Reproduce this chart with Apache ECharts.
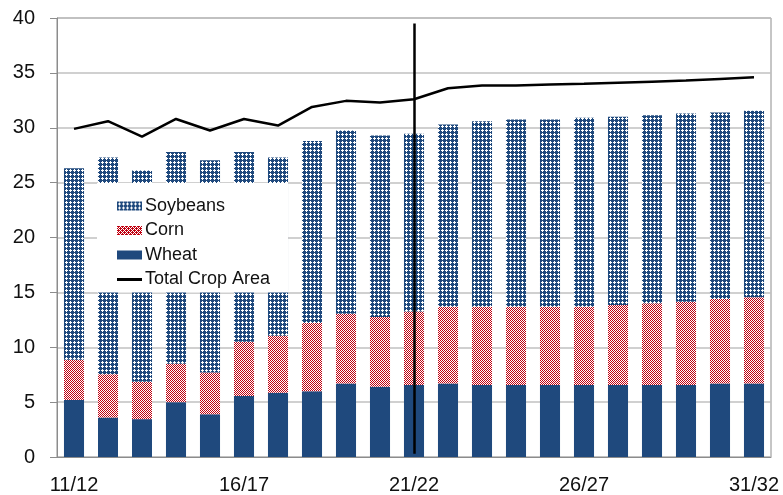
<!DOCTYPE html>
<html>
<head>
<meta charset="utf-8">
<script src="https://cdn.jsdelivr.net/npm/echarts@6/dist/echarts.min.js"></script>
<style>
html, body { margin: 0; padding: 0; background: #fff; }
#chart { width: 783px; height: 495px; }
</style>
</head>
<body>
<div id="chart"></div>
<script>
var years = ['11/12', '12/13', '13/14', '14/15', '15/16', '16/17', '17/18', '18/19', '19/20', '20/21',
    '21/22', '22/23', '23/24', '24/25', '25/26', '26/27', '27/28', '28/29', '29/30', '30/31', '31/32'];
var wheat = [5.2, 3.6, 3.45, 5.0, 3.9, 5.55, 5.85, 6.0, 6.7, 6.4, 6.55, 6.7, 6.55, 6.55, 6.55, 6.55, 6.55, 6.55, 6.55, 6.7, 6.7];
var corn = [3.65, 3.95, 3.4, 3.5, 3.8, 4.95, 5.2, 6.2, 6.35, 6.35, 6.7, 7.0, 7.15, 7.15, 7.15, 7.15, 7.3, 7.45, 7.6, 7.7, 7.85];
var soybeans = [17.45, 19.75, 19.25, 19.3, 19.35, 17.3, 16.25, 16.6, 16.7, 16.55, 16.2, 16.6, 16.9, 17.05, 17.05, 17.2, 17.15, 17.15, 17.15, 17.0, 17.0];
var totalArea = [29.9, 30.6, 29.2, 30.8, 29.75, 30.8, 30.2, 31.9, 32.45, 32.3, 32.6, 33.6, 33.85, 33.85, 33.95, 34.0, 34.1, 34.2, 34.3, 34.45, 34.6];
var yTicks = [0, 5, 10, 15, 20, 25, 30, 35, 40];
var splitYear = '21/22';

// fill patterns
function makeTile(size, bg, fg, cells) {
    var c = document.createElement('canvas');
    c.width = size; c.height = size;
    var ctx = c.getContext('2d');
    ctx.fillStyle = bg;
    ctx.fillRect(0, 0, size, size);
    ctx.fillStyle = fg;
    cells.forEach(function (p) { ctx.fillRect(p[0], p[1], 1, 1); });
    return { image: c, repeat: 'repeat' };
}
var soyFill = makeTile(4, '#1f497d', '#ffffff', [[2, 1], [1, 2], [2, 2], [3, 2], [2, 3]]);
var cornFill = makeTile(2, '#ffffff', '#c00010', [[0, 0], [1, 1]]);
var cornKey = makeTile(4, '#ffffff', '#c00010', [[0, 0], [1, 1], [2, 0], [3, 1], [0, 2], [1, 3], [2, 2], [3, 3], [1, 0], [3, 2]]);

var chart = echarts.init(document.getElementById('chart'));
var font = 'Liberation Sans, Arial, sans-serif';

chart.setOption({
    animation: false,
    textStyle: { fontFamily: font },
    grid: {
        left: 57, right: 12, top: 18, bottom: 38,
        show: true, borderColor: '#8c8c8c', borderWidth: 1
    },
    legend: {
        orient: 'vertical',
        left: 97, top: 183,
        padding: [13, 18, 3, 20],
        backgroundColor: '#ffffff',
        itemWidth: 25, itemHeight: 9, itemGap: 4.5,
        textStyle: { fontSize: 18, lineHeight: 20, color: '#111', fontFamily: font, padding: [0, 0, 0, -2] },
        data: [
            { name: 'Soybeans', icon: 'rect', itemStyle: { color: soyFill } },
            { name: 'Corn', icon: 'rect', itemStyle: { color: cornKey } },
            { name: 'Wheat', icon: 'rect', itemStyle: { color: '#1f497d' } },
            { name: 'Total Crop Area', icon: 'path://M0 0H25V3H0Z', itemStyle: { color: '#000' } }
        ]
    },
    xAxis: {
        type: 'category',
        data: years,
        axisLine: { lineStyle: { color: '#8c8c8c' } },
        axisTick: { interval: 0, length: 6, lineStyle: { color: '#8c8c8c' } },
        axisLabel: { interval: 4, fontSize: 20, color: '#111', margin: 18 }
    },
    yAxis: {
        type: 'value',
        min: 0, max: 40, interval: 5,
        axisLine: { show: true, lineStyle: { color: '#8c8c8c' } },
        axisTick: { show: true, length: 7, lineStyle: { color: '#8c8c8c' } },
        axisLabel: {
            fontSize: 20, color: '#111', margin: 22,
            formatter: function (v) { return yTicks.indexOf(v) >= 0 ? String(v) : ''; }
        },
        splitLine: { lineStyle: { color: '#c0c0c0', width: 1.5 } }
    },
    series: [
        { name: 'Wheat', type: 'bar', stack: 'area', barWidth: '59%', data: wheat,
          itemStyle: { color: '#1f497d' } },
        { name: 'Corn', type: 'bar', stack: 'area', data: corn,
          itemStyle: { color: cornFill } },
        { name: 'Soybeans', type: 'bar', stack: 'area', data: soybeans,
          itemStyle: { color: soyFill } },
        { name: 'Total Crop Area', type: 'line', data: totalArea, z: 5,
          symbol: 'none', showSymbol: false,
          itemStyle: { color: '#000' },
          lineStyle: { color: '#000', width: 2.5 },
          markLine: {
              silent: true, symbol: 'none', animation: false,
              label: { show: false },
              lineStyle: { color: '#000', width: 2.5, type: 'solid' },
              data: [[{ coord: [splitYear, 0.3] }, { coord: [splitYear, 39.5] }]]
          } }
    ]
});
</script>
</body>
</html>
